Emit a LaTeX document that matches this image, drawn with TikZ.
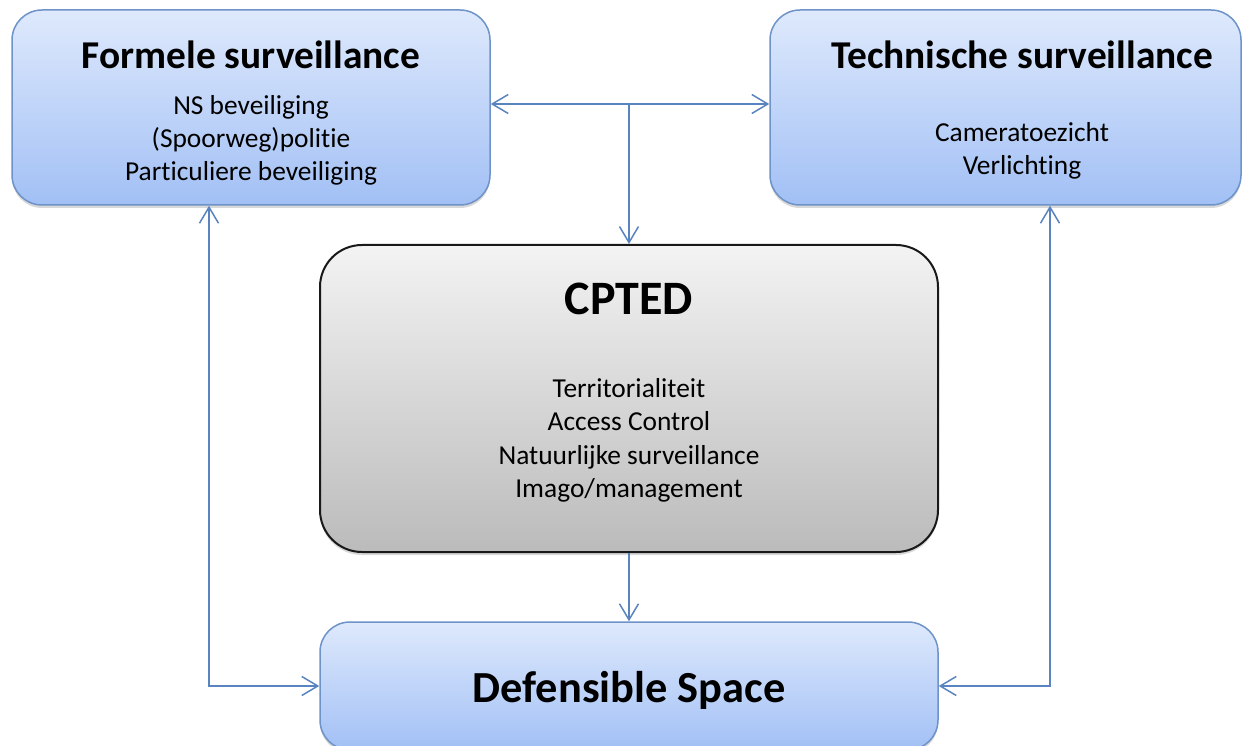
\documentclass[tikz,border=0pt]{standalone}
\usepackage{fontspec}
\setmainfont{Carlito}[Ligatures=NoCommon]
\usetikzlibrary{arrows.meta,shadows}
\definecolor{bluetop}{HTML}{DEE9FC}
\definecolor{bluebot}{HTML}{A2C0F5}
\definecolor{blueedge}{HTML}{6E93C8}
\definecolor{arrowcol}{HTML}{5A84BF}
\definecolor{graytop}{HTML}{F3F3F3}
\definecolor{graybot}{HTML}{BBBBBB}
\begin{document}
\begin{tikzpicture}[x=1pt,y=-1pt,
  bluebox/.style={draw=blueedge, line width=1.5pt, rounded corners=30pt,
    top color=bluetop, bottom color=bluebot, inner sep=0pt,
    drop shadow={opacity=0.3, shadow xshift=0pt, shadow yshift=-3pt}},
  graybox/.style={draw=black!90, line width=2pt, rounded corners=42pt,
    top color=graytop, bottom color=graybot, inner sep=0pt,
    drop shadow={opacity=0.3, shadow xshift=0pt, shadow yshift=-3pt}},
  titletxt/.style={anchor=base, inner sep=0pt, font=\fontsize{39.4}{47}\selectfont\bfseries},
  bigtxt/.style={anchor=base, inner sep=0pt, font=\fontsize{48}{57}\selectfont\bfseries},
  dstxt/.style={anchor=base, inner sep=0pt, font=\fontsize{44.4}{53}\selectfont\bfseries},
  bodytxt/.style={anchor=base, inner sep=0pt, font=\fontsize{27.4}{33}\selectfont},
  conn/.style={draw=arrowcol, line width=1.5pt,
    arrows={Straight Barb[length=16pt,width=19pt]-Straight Barb[length=16pt,width=19pt]}},
  conn1/.style={draw=arrowcol, line width=1.5pt, -{Straight Barb[length=16pt,width=19pt]}}
]
\useasboundingbox (0,0) rectangle (1243,746);
\fill[white] (0,0) rectangle (1243,746);

% boxes
\node[bluebox, minimum width=478pt, minimum height=195pt] (f) at (251,107.5) {};
\node[bluebox, minimum width=471pt, minimum height=195pt] (t) at (1005.5,107.5) {};
\node[graybox, minimum width=618pt, minimum height=307pt] (c) at (629,398.5) {};
\node[bluebox, minimum width=618pt, minimum height=128pt] (d) at (629,686) {};

% texts
\node[titletxt] (ft) at (251,69) {Formele surveillance};
\node[bodytxt] (f1) at (251,115) {NS beveiliging};
\node[bodytxt] (f2) at (251,148) {(Spoorweg)politie};
\node[bodytxt] (f3) at (251,181) {Particuliere beveiliging};

\node[titletxt] (tt) at (1022,69) {Technische surveillance};
\node[bodytxt] (t1) at (1022,142) {Cameratoezicht};
\node[bodytxt] (t2) at (1022,175) {Verlichting};

\node[bigtxt] (ct) at (629,315) {CPTED};
\node[bodytxt] (c1) at (629,397) {Territorialiteit};
\node[bodytxt] (c2) at (629,430.5) {Access Control};
\node[bodytxt] (c3) at (629,464) {Natuurlijke surveillance};
\node[bodytxt] (c4) at (629,497.5) {Imago/management};

\node[dstxt] (dt) at (629,702) {Defensible Space};

% connectors
\coordinate (j) at (629,104);
\coordinate (lc) at (209,686);
\coordinate (rc) at (1050,686);
\draw[conn] (f.east |- j) -- (t.west |- j);
\draw[conn1] (j) -- (c.north);
\draw[conn1] (c.south) -- (d.north);
\draw[conn] (f.south -| lc) -- (lc) -- (d.west |- lc);
\draw[conn] (t.south -| rc) -- (rc) -- (d.east |- rc);
\end{tikzpicture}
\end{document}
